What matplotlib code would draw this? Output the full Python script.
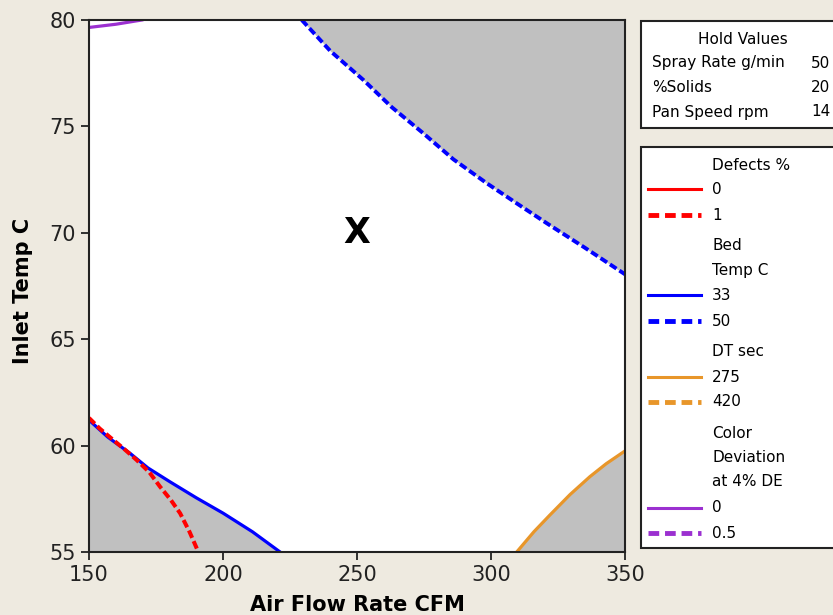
import numpy as np
import matplotlib
matplotlib.use("Agg")
import matplotlib.pyplot as plt
from matplotlib.lines import Line2D
from matplotlib.patches import Rectangle

# contour lines
bed50_x = [229.4, 240.0, 252.4, 263.0, 274.7, 286.0, 298.4, 310.0, 320.8, 335.0, 350.0]
bed50_y = [80.0, 78.55, 77.18, 75.9, 74.68, 73.45, 72.33, 71.35, 70.45, 69.3, 68.05]

bed33_x = [150.0, 157.0, 165.3, 172.0, 180.2, 190.0, 200.1, 211.0, 221.3]
bed33_y = [61.2, 60.4, 59.64, 58.95, 58.3, 57.55, 56.82, 55.95, 55.0]

def1_x = [150.0, 154.0, 159.1, 163.5, 167.8, 172.5, 176.5, 180.5, 184.0, 187.5, 190.8]
def1_y = [61.3, 60.8, 60.26, 59.8, 59.32, 58.75, 58.07, 57.45, 56.82, 55.95, 55.0]

dt275_x = [309.6, 316.0, 322.0, 329.5, 336.9, 343.0, 350.0]
dt275_y = [55.0, 55.95, 56.74, 57.7, 58.54, 59.15, 59.75]

col0_x = [150.0, 160.0, 169.7]
col0_y = [79.65, 79.8, 80.0]

hold_names = ["Spray Rate g/min", "%Solids", "Pan Speed rpm"]
hold_vals = ["50", "20", "14"]

xticks = [150, 200, 250, 300, 350]
yticks = [55, 60, 65, 70, 75, 80]

bg = "#eeeae0"
gray = "#c0c0c0"
red = "#ff0000"
blue = "#0000ff"
orange = "#e8962a"
purple = "#9b30d0"

fig = plt.figure(figsize=(8.33, 6.15), dpi=100, facecolor=bg)
ax = fig.add_axes([89 / 833, 1 - 552 / 615, 536 / 833, 532 / 615])
ax.set_facecolor("white")

# shaded (infeasible) regions
ax.fill_between(bed50_x, bed50_y, 80, color=gray, lw=0)
ax.fill_between(bed33_x, 55, bed33_y, color=gray, lw=0)
ax.fill_between(dt275_x, 55, dt275_y, color=gray, lw=0)

lw = 2.3
dash = (0, (2.0, 0.9))
ax.plot(bed50_x, bed50_y, color=blue, lw=lw + 0.5, ls=dash)
ax.plot(bed33_x, bed33_y, color=blue, lw=lw)
ax.plot(def1_x, def1_y, color=red, lw=lw + 0.6, ls=dash)
ax.plot(dt275_x, dt275_y, color=orange, lw=lw)
ax.plot(col0_x, col0_y, color=purple, lw=lw)

ax.text(250, 70, "X", fontsize=25, fontweight="bold", ha="center", va="center")

ax.set_xlim(150, 350)
ax.set_ylim(55, 80)
ax.set_xticks(xticks)
ax.set_yticks(yticks)
ax.tick_params(labelsize=15, length=6, width=1.3, direction="out", colors="#222222")
for s in ax.spines.values():
    s.set_linewidth(1.5)
    s.set_color("#222222")

ax.set_xlabel("Air Flow Rate CFM", fontsize=15, fontweight="bold", labelpad=7)
ax.set_ylabel("Inlet Temp C", fontsize=15, fontweight="bold")
ax.yaxis.set_label_coords(-56 / 536, 0.49)

W, H = 833, 615

def fx(px):
    return px / W

def fy(py):
    return 1 - py / H

# hold values box
fig.patches.append(Rectangle((fx(641), fy(128)), fx(260), 107 / H, transform=fig.transFigure,
                             facecolor="white", edgecolor="#222222", lw=1.5))
fig.text(fx(743), fy(39), "Hold Values", fontsize=11, ha="center", va="center")
for i, (n, v) in enumerate(zip(hold_names, hold_vals)):
    y = fy(63 + 24.5 * i)
    fig.text(fx(652), y, n, fontsize=11, va="center")
    fig.text(fx(811), y, v, fontsize=11, va="center")

# contour legend box
fig.patches.append(Rectangle((fx(641), fy(548)), fx(260), 401 / H, transform=fig.transFigure,
                             facecolor="white", edgecolor="#222222", lw=1.5))
rows = [
    ("Defects %", None, None), ("0", red, "-"), ("1", red, "--"),
    ("Bed", None, None), ("Temp C", None, None), ("33", blue, "-"), ("50", blue, "--"),
    ("DT sec", None, None), ("275", orange, "-"), ("420", orange, "--"),
    ("Color", None, None), ("Deviation", None, None), ("at 4% DE", None, None),
    ("0", purple, "-"), ("0.5", purple, "--"),
]
row_y = [165, 189, 215, 246, 271, 295, 321, 352, 377, 402, 433, 458, 482, 508, 533]
for (label, c, style), py in zip(rows, row_y):
    fig.text(fx(712), fy(py), label, fontsize=11, va="center")
    if c is not None:
        if style == "-":
            fig.add_artist(Line2D([fx(648), fx(701)], [fy(py), fy(py)], color=c, lw=2.2,
                                  transform=fig.transFigure))
        else:
            fig.add_artist(Line2D([fx(648), fx(701)], [fy(py), fy(py)], color=c, lw=3.5,
                                  ls=(0, (2.2, 1.2)), transform=fig.transFigure))

fig.savefig("out.png", dpi=100, facecolor=bg)
